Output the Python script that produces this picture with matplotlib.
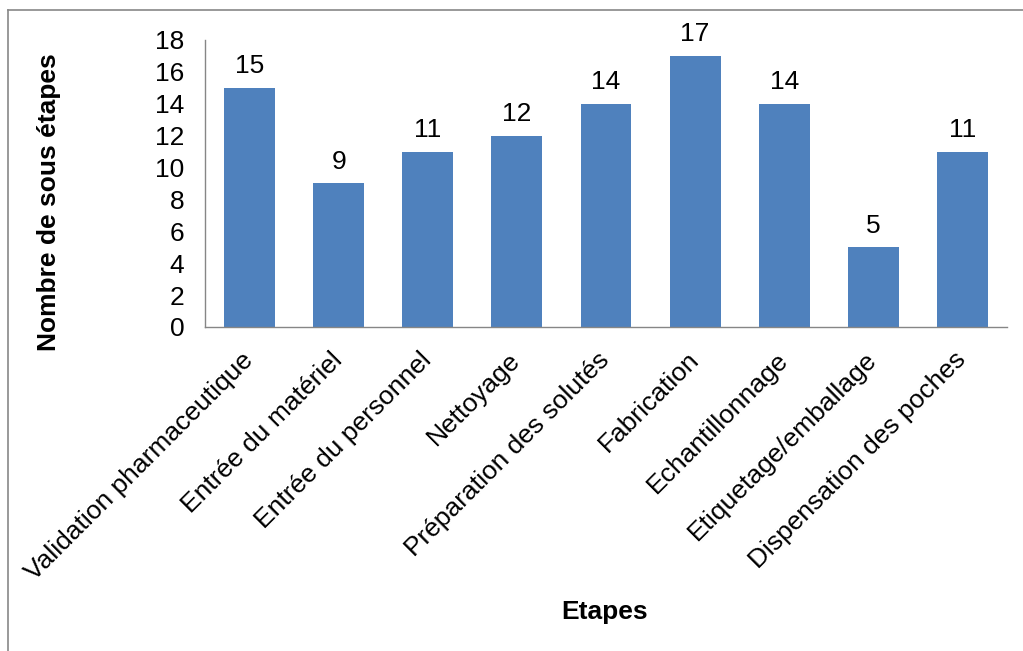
import matplotlib
matplotlib.use("Agg")
import matplotlib.pyplot as plt
from matplotlib.lines import Line2D
import numpy as np

etapes = ["Validation pharmaceutique", "Entrée du matériel", "Entrée du personnel",
          "Nettoyage", "Préparation des solutés", "Fabrication", "Echantillonnage",
          "Etiquetage/emballage", "Dispensation des poches"]
nb_sous_etapes = [15, 9, 11, 12, 14, 17, 14, 5, 11]
yticks = [0, 2, 4, 6, 8, 10, 12, 14, 16, 18]

plt.rcParams['font.family'] = ['Liberation Sans', 'DejaVu Sans']
fs = 19

fig = plt.figure(figsize=(10.23, 6.51), dpi=100)
ax = fig.add_axes([0.2004, 0.4977, 0.7840, 0.4409])

x = np.arange(len(etapes))
bars = ax.bar(x, nb_sous_etapes, width=0.571, color='#4F81BD')

for xi, v in zip(x, nb_sous_etapes):
    ax.annotate(str(v), (xi, v), xytext=(0, 7), textcoords='offset points',
                ha='center', va='bottom', fontsize=fs)

ax.set_xlim(-0.5, len(etapes) - 0.5)
ax.set_ylim(0, 18)
ax.set_yticks(yticks)
ax.set_yticklabels([str(t) for t in yticks], fontsize=fs)
ax.set_xticks(x)
ax.set_xticklabels(etapes, rotation=45, ha='right', va='center',
                   rotation_mode='anchor', fontsize=fs)
ax.tick_params(axis='y', length=0, pad=15)
ax.tick_params(axis='x', length=0, pad=21)

for s in ['top', 'right']:
    ax.spines[s].set_visible(False)
for s in ['left', 'bottom']:
    ax.spines[s].set_color('#868686')
    ax.spines[s].set_linewidth(1.0)

ax.set_ylabel('Nombre de sous étapes', fontsize=fs, fontweight='bold')
ax.yaxis.set_label_coords(-0.180, 0.435)
fig.text(605 / 1023, 1 - 612 / 651, 'Etapes', fontsize=fs, fontweight='bold',
         ha='center', va='center')

# cadre du graphique (coupé a droite et en bas)
fig.add_artist(Line2D([8 / 1023, 8 / 1023], [0, 1 - 10 / 651], color='#888888', lw=1.2))
fig.add_artist(Line2D([8 / 1023, 1], [1 - 10 / 651, 1 - 10 / 651], color='#888888', lw=1.2))

plt.savefig('out.png', dpi=100)
